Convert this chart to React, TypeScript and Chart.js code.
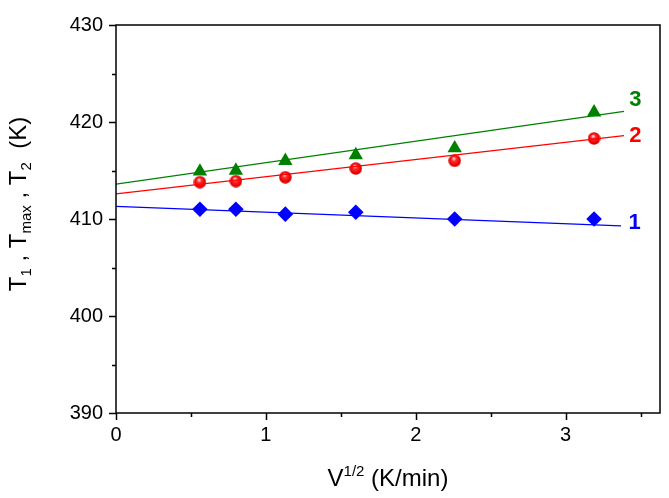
import React, { useEffect, useRef } from 'react';
import { Chart, registerables } from 'chart.js';
Chart.register(...registerables);

// Data
const xValues = [0.56, 0.8, 1.13, 1.6, 2.26, 3.19];
const series1 = [411.0, 411.0, 410.5, 410.7, 410.0, 410.0];
const series2 = [413.8, 413.9, 414.3, 415.2, 416.0, 418.3];
const series3 = [414.9, 415.0, 416.0, 416.6, 417.3, 421.0];

const fitX1 = [0, 3.37];
const fitY1 = [411.3, 409.3];
const fitX2 = [0, 3.39];
const fitY2 = [412.6, 418.6];
const fitX3 = [0, 3.39];
const fitY3 = [413.6, 421.1];

const curveLabels = ['1', '2', '3'];
const curveLabelX = [3.46, 3.465, 3.465];
const curveLabelY = [409.6, 418.6, 422.3];

const xTicks = [0, 1, 2, 3];
const xMinorTicks = [0.5, 1.5, 2.5, 3.5];
const yTicks = [390, 400, 410, 420, 430];
const yMinorTicks = [395, 405, 415, 425];

const BLUE = '#0000ff';
const RED = '#ff0000';
const GREEN = '#008000';
const FONT = 'Arial, "Liberation Sans", sans-serif';

function makeSphere(): HTMLCanvasElement {
  const size = 13;
  const c = document.createElement('canvas');
  c.width = size;
  c.height = size;
  const ctx = c.getContext('2d')!;
  const r = size / 2 - 0.3;
  const g = ctx.createRadialGradient(size / 2 - 1, size / 2 - 2.5, 0.5, size / 2, size / 2, r);
  g.addColorStop(0, '#ffe0e0');
  g.addColorStop(0.3, '#ff3030');
  g.addColorStop(0.8, '#ee0000');
  g.addColorStop(1, '#c00000');
  ctx.fillStyle = g;
  ctx.beginPath();
  ctx.arc(size / 2, size / 2, r, 0, Math.PI * 2);
  ctx.fill();
  return c;
}

type Seg = { t: string; k: 'n' | 'sub' | 'sup' };

function drawRich(ctx: CanvasRenderingContext2D, segs: Seg[], main: number, small: number) {
  const widths = segs.map((s) => {
    ctx.font = `${s.k === 'n' ? main : small}px ${FONT}`;
    return ctx.measureText(s.t).width;
  });
  const total = widths.reduce((a, b) => a + b, 0);
  let x = -total / 2;
  segs.forEach((s, i) => {
    ctx.font = `${s.k === 'n' ? main : small}px ${FONT}`;
    const dy = s.k === 'sub' ? 5 : s.k === 'sup' ? -10 : 0;
    ctx.fillText(s.t, x, dy);
    x += widths[i];
  });
}

const framePlugin = {
  id: 'frame',
  afterDraw(chart: any) {
    const { ctx, chartArea, scales } = chart;
    const { left, right, top, bottom } = chartArea;
    ctx.save();
    ctx.strokeStyle = '#000';
    ctx.lineWidth = 1.5;
    ctx.strokeRect(left, top, right - left, bottom - top);
    // major and minor ticks
    ctx.beginPath();
    xTicks.forEach((v) => {
      const px = Math.round(scales.x.getPixelForValue(v)) + 0.5;
      ctx.moveTo(px, bottom);
      ctx.lineTo(px, bottom + 7);
    });
    yTicks.forEach((v) => {
      const py = Math.round(scales.y.getPixelForValue(v)) + 0.5;
      ctx.moveTo(left, py);
      ctx.lineTo(left - 7, py);
    });
    xMinorTicks.forEach((v) => {
      const px = Math.round(scales.x.getPixelForValue(v)) + 0.5;
      ctx.moveTo(px, bottom);
      ctx.lineTo(px, bottom + 4);
    });
    yMinorTicks.forEach((v) => {
      const py = Math.round(scales.y.getPixelForValue(v)) + 0.5;
      ctx.moveTo(left, py);
      ctx.lineTo(left - 4, py);
    });
    ctx.stroke();

    // curve labels
    const cols = [BLUE, RED, GREEN];
    ctx.font = `bold 22px ${FONT}`;
    ctx.textAlign = 'center';
    ctx.textBaseline = 'middle';
    curveLabels.forEach((t, i) => {
      ctx.fillStyle = cols[i];
      ctx.fillText(t, scales.x.getPixelForValue(curveLabelX[i]), scales.y.getPixelForValue(curveLabelY[i]));
    });

    // axis titles
    ctx.fillStyle = '#000';
    ctx.textAlign = 'left';
    ctx.textBaseline = 'alphabetic';
    ctx.save();
    ctx.translate((left + right) / 2, 486);
    drawRich(ctx, [
      { t: 'V', k: 'n' },
      { t: '1/2', k: 'sup' },
      { t: ' (K/min)', k: 'n' },
    ], 24, 15);
    ctx.restore();

    ctx.save();
    ctx.translate(26, 204);
    ctx.rotate(-Math.PI / 2);
    drawRich(ctx, [
      { t: 'T', k: 'n' },
      { t: '1', k: 'sub' },
      { t: ' , ', k: 'n' },
      { t: 'T', k: 'n' },
      { t: 'max', k: 'sub' },
      { t: ' , ', k: 'n' },
      { t: 'T', k: 'n' },
      { t: '2', k: 'sub' },
      { t: '  (K)', k: 'n' },
    ], 24, 15);
    ctx.restore();
    ctx.restore();
  },
};

export default function App() {
  const ref = useRef<HTMLCanvasElement>(null);
  useEffect(() => {
    document.body.style.margin = '0';
    const sphere = makeSphere();
    const pts = (ys: number[]) => xValues.map((x, i) => ({ x, y: ys[i] }));
    const line = (xs: number[], ys: number[]) => xs.map((x, i) => ({ x, y: ys[i] }));
    const chart = new Chart(ref.current!, {
      type: 'scatter',
      data: {
        datasets: [
          { type: 'line', data: line(fitX1, fitY1), borderColor: BLUE, borderWidth: 1.3, pointRadius: 0, fill: false },
          { type: 'line', data: line(fitX2, fitY2), borderColor: RED, borderWidth: 1.3, pointRadius: 0, fill: false },
          { type: 'line', data: line(fitX3, fitY3), borderColor: GREEN, borderWidth: 1.3, pointRadius: 0, fill: false },
          { data: pts(series1), pointStyle: 'rectRot', pointRadius: 7.8, backgroundColor: BLUE, borderColor: BLUE, borderWidth: 0 },
          { data: pts(series2), pointStyle: sphere as any, pointRadius: 6.5, backgroundColor: RED, borderColor: RED, borderWidth: 0 },
          { data: pts(series3), pointStyle: 'triangle', pointRadius: 8.3, backgroundColor: GREEN, borderColor: GREEN, borderWidth: 0 },
        ] as any,
      },
      options: {
        animation: false,
        responsive: false,
        devicePixelRatio: 1,
        layout: { padding: { top: 16, right: 9, left: 0, bottom: 0 } },
        plugins: { legend: { display: false }, tooltip: { enabled: false } },
        scales: {
          x: {
            type: 'linear',
            min: 0,
            max: 3.63,
            grid: { display: false, drawTicks: false, tickLength: 0 },
            border: { display: false },
            ticks: { color: '#000', font: { family: FONT, size: 20 }, padding: 10 },
            afterBuildTicks: (s: any) => { s.ticks = xTicks.map((v) => ({ value: v })); },
            afterFit: (s: any) => { s.height = 85; },
          },
          y: {
            type: 'linear',
            min: 390,
            max: 430,
            grid: { display: false, drawTicks: false, tickLength: 0 },
            border: { display: false },
            ticks: { color: '#000', font: { family: FONT, size: 20 }, padding: 13 },
            afterBuildTicks: (s: any) => { s.ticks = yTicks.map((v) => ({ value: v })); },
            afterFit: (s: any) => { s.width = 116; },
          },
        },
      } as any,
      plugins: [framePlugin],
    });
    return () => chart.destroy();
  }, []);
  return (
    <div style={{ width: 669, height: 498, background: '#fff' }}>
      <canvas ref={ref} width={669} height={498} style={{ display: 'block' }} />
    </div>
  );
}
